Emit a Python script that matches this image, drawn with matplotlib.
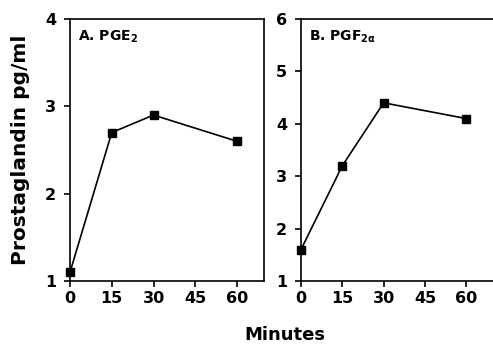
import numpy as np
import matplotlib.pyplot as plt

plt.rcParams['font.family'] = ['DejaVu Sans']
plt.rcParams['font.weight'] = 'bold'
plt.rcParams['mathtext.default'] = 'bf'

minutes = [0, 15, 30, 60]
pge2 = [1.1, 2.7, 2.9, 2.6]
pgf2a = [1.6, 3.2, 4.4, 4.1]
xticks = [0, 15, 30, 45, 60]

fig = plt.figure(figsize=(4.93, 3.46), dpi=100)
ax1 = fig.add_axes([70/493, 1 - 281/346, 194/493, 262/346])
ax2 = fig.add_axes([301/493, 1 - 281/346, 192/493, 262/346])

for ax, y, ylim, lab in [(ax1, pge2, (1, 4), r'A. PGE$_\mathbf{2}$'),
                         (ax2, pgf2a, (1, 6), r'B. PGF$_{\mathbf{2}\alpha}$')]:
    ax.plot(minutes, y, color='black', lw=1.2, marker='s', ms=6, clip_on=False)
    ax.set_xlim(0, 69.7)
    ax.set_ylim(*ylim)
    ax.set_xticks(xticks)
    ax.set_yticks(np.arange(ylim[0], ylim[1] + 1))
    ax.tick_params(direction='out', length=4, width=1.2, labelsize=11.5)
    ax.tick_params(axis='x', pad=3)
    ax.tick_params(axis='y', pad=6)
    for s in ax.spines.values():
        s.set_linewidth(1.2)
    ax.text(0.04, 0.965, lab, transform=ax.transAxes, fontsize=10,
            fontweight='bold', va='top', ha='left')

ax2.spines['right'].set_visible(False)
ax1.set_ylabel('Prostaglandin pg/ml', fontsize=14.5, fontweight='bold', labelpad=11)
fig.text(285/493, 1 - 335/346, 'Minutes', fontsize=13, fontweight='bold',
         ha='center', va='center')

fig.savefig('out.png', dpi=100)
